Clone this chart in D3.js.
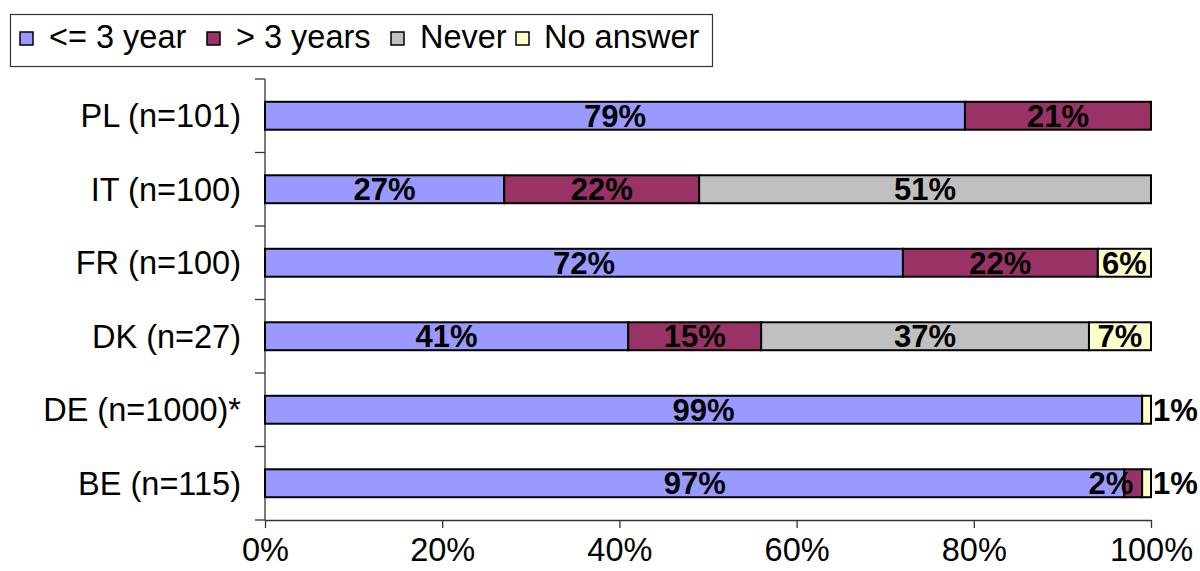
<!DOCTYPE html>
<html>
<head>
<meta charset="utf-8">
<script src="https://cdn.jsdelivr.net/npm/d3@7"></script>
<style>
  html, body { margin: 0; padding: 0; background: #fff; }
  svg { display: block; font-family: "Liberation Sans", Arial, sans-serif; }
</style>
</head>
<body>
<svg id="chart" width="1200" height="571"></svg>
<script>
// Categories, top to bottom
const categories = ["PL (n=101)", "IT (n=100)", "FR (n=100)", "DK (n=27)", "DE (n=1000)*", "BE (n=115)"];
// Series names and shares (%) per category
const seriesNames = ["<= 3 year", "> 3 years", "Never", "No answer"];
const upTo3Years   = [79, 27, 72, 41, 99, 97];
const over3Years   = [21, 22, 22, 15, 0, 2];
const never        = [0, 51, 0, 37, 0, 0];
const noAnswer     = [0, 0, 6, 7, 1, 1];
const seriesValues = [upTo3Years, over3Years, never, noAnswer];
const seriesColors = ["#9999FF", "#993366", "#C0C0C0", "#FFFFCC"];
const xTickValues  = [0, 20, 40, 60, 80, 100];

const svg = d3.select("#chart");
const margin = { left: 265, right: 49, top: 79, bottom: 51 };
const width = 1200, height = 571;
const fontSize = 32.5;
const valueFontSize = 31;

const x = d3.scaleLinear().domain([0, 100]).range([margin.left, width - margin.right]);
const y = d3.scaleBand().domain(categories).range([margin.top, height - margin.bottom]).paddingInner(0.62).paddingOuter(0.31);
const yOuter = d3.scaleBand().domain(categories).range([margin.top, height - margin.bottom]);

// Stack rows
const rows = categories.map((c, i) => {
  const r = { cat: c };
  seriesNames.forEach((s, k) => r[s] = seriesValues[k][i]);
  return r;
});
const stacked = d3.stack().keys(seriesNames)(rows);

// Axes
const axisColor = "#333";
const xAxis = svg.append("g")
  .attr("transform", `translate(0,${height - margin.bottom})`)
  .call(d3.axisBottom(x).tickValues(xTickValues).tickFormat(d => d + "%").tickSize(8).tickSizeOuter(0));
xAxis.select(".domain").attr("stroke", axisColor).attr("stroke-width", 1.3);
xAxis.selectAll(".tick line").attr("stroke", axisColor).attr("stroke-width", 1.3);
xAxis.selectAll(".tick text").attr("font-size", fontSize).attr("font-family", "Liberation Sans, Arial, sans-serif").attr("fill", "#000").attr("dy", "0.9em").attr("y", 12);

// Vertical axis with ticks at category boundaries
const yAxisG = svg.append("g");
yAxisG.append("line")
  .attr("x1", x(0)).attr("x2", x(0))
  .attr("y1", margin.top).attr("y2", height - margin.bottom)
  .attr("stroke", axisColor).attr("stroke-width", 1.3);
const boundaries = categories.map(c => yOuter(c)).concat([height - margin.bottom]);
yAxisG.selectAll("line.btick").data(boundaries).join("line")
  .attr("class", "btick")
  .attr("x1", x(0) - 10).attr("x2", x(0))
  .attr("y1", d => d).attr("y2", d => d)
  .attr("stroke", axisColor).attr("stroke-width", 1.3);

// Category labels
svg.append("g").selectAll("text").data(categories).join("text")
  .attr("x", 241)
  .attr("y", d => yOuter(d) + yOuter.bandwidth() / 2)
  .attr("dy", "0.36em")
  .attr("text-anchor", "end")
  .attr("font-size", fontSize)
  .attr("fill", "#000")
  .text(d => d);

// Bars
const layers = svg.append("g").selectAll("g").data(stacked).join("g")
  .attr("fill", (d, i) => seriesColors[i]);
layers.selectAll("rect").data(d => d.filter(p => p[1] - p[0] > 0)).join("rect")
  .attr("x", p => x(p[0]))
  .attr("width", p => x(p[1]) - x(p[0]))
  .attr("y", p => y(p.data.cat))
  .attr("height", y.bandwidth())
  .attr("stroke", "#000")
  .attr("stroke-width", 2);

// Value labels: centred in the segment; narrow segments push the label aside
const labels = svg.append("g");
stacked.forEach((layer, k) => {
  layer.forEach(p => {
    const v = p[1] - p[0];
    if (v <= 0) return;
    const ci = categories.indexOf(p.data.cat);
    const isLast = seriesValues.slice(k + 1).every(arr => arr[ci] === 0);
    const segW = x(p[1]) - x(p[0]);
    const t = labels.append("text")
      .attr("y", y(p.data.cat) + y.bandwidth() / 2)
      .attr("dy", "0.36em")
      .attr("font-size", valueFontSize)
      .attr("font-weight", "bold")
      .attr("fill", "#000")
      .text(v + "%");
    const tw = t.node().getComputedTextLength();
    if (segW >= tw) {
      t.attr("x", (x(p[0]) + x(p[1])) / 2).attr("text-anchor", "middle");
    } else if (isLast) {
      t.attr("x", x(p[1]) + 2).attr("text-anchor", "start");
    } else {
      t.attr("x", (x(p[0]) + x(p[1])) / 2).attr("text-anchor", "end");
    }
  });
});

// Legend
const legend = svg.append("g");
legend.append("rect")
  .attr("x", 10.5).attr("y", 14.5).attr("width", 702).attr("height", 52)
  .attr("fill", "#fff").attr("stroke", "#333").attr("stroke-width", 1.2);
const swatchX = [20, 207, 391, 516];
const legendTextX = [49, 236, 420, 544];
seriesNames.forEach((s, i) => {
  legend.append("rect")
    .attr("x", swatchX[i]).attr("y", 32).attr("width", 13).attr("height", 13)
    .attr("fill", seriesColors[i]).attr("stroke", "#000").attr("stroke-width", 1.5);
  legend.append("text")
    .attr("x", legendTextX[i]).attr("y", 36)
    .attr("dy", "0.36em")
    .attr("font-size", fontSize)
    .attr("fill", "#000")
    .text(s);
});
</script>
</body>
</html>
